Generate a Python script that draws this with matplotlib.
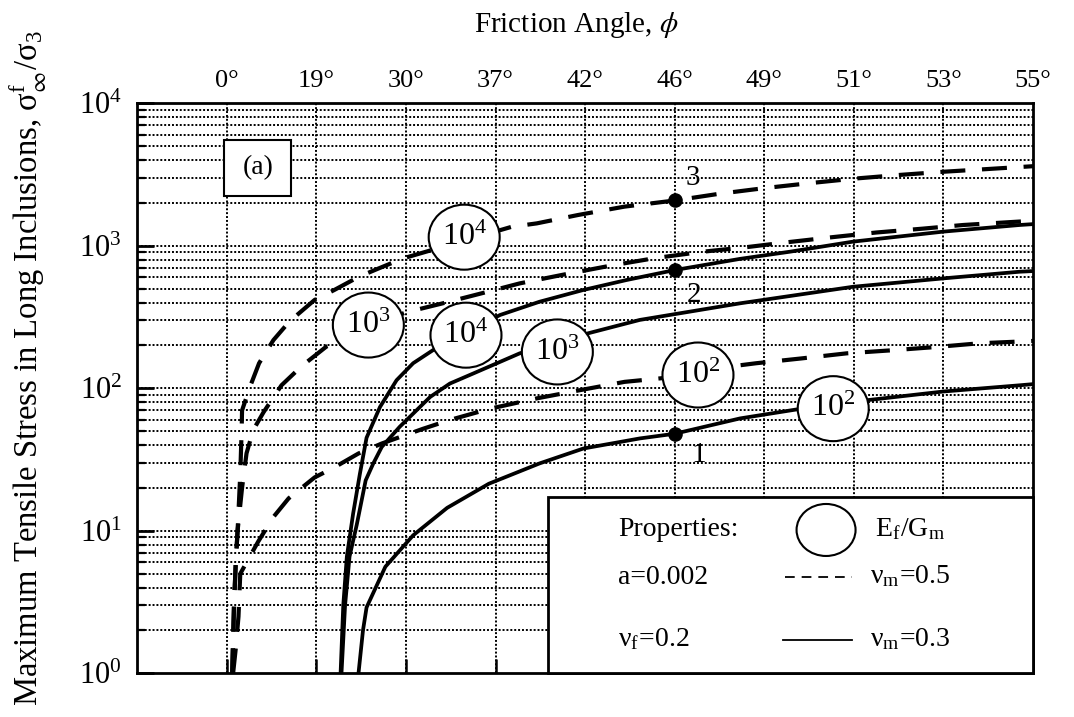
import matplotlib.pyplot as plt
from matplotlib.patches import Ellipse, Rectangle
from matplotlib.transforms import ScaledTranslation
from matplotlib.ticker import LogLocator, NullFormatter

plt.rcParams['font.family'] = ['Liberation Serif', 'DejaVu Serif']
plt.rcParams['mathtext.fontset'] = 'stix'
plt.rcParams['lines.scale_dashes'] = False

# x axis is Kp = (1 + sin phi) / (1 - sin phi); top labels give the angle
kp_ticks = [1, 2, 3, 4, 5, 6, 7, 8, 9, 10]
angle_labels = ['0°', '19°', '30°', '37°', '42°', '46°', '49°', '51°', '53°', '55°']

# nu_m = 0.5 (dashed), Ef/Gm = 1e2, 1e3, 1e4
d2_kp = [1.07, 1.10, 1.13, 1.15, 1.35, 1.52, 1.69, 1.98, 2.21, 2.47, 2.73, 3.19, 3.49,
         3.94, 4.46, 4.94, 5.44, 5.87, 6.61, 6.91, 7.41, 7.92, 8.43, 8.92, 9.40, 10.0]
d2_s = [1, 1.5, 2.5, 5, 8.4, 12.5, 16.9, 23.7, 28.1, 34.9, 41, 52, 60,
        72, 85, 97, 111, 118, 142, 150, 162, 176, 185, 195, 207, 215]

d3_kp = [1.06, 1.08, 1.10, 1.12, 1.17, 1.22, 1.295, 1.41, 1.61, 1.835, 2.11, 2.99, 3.39,
         3.82, 4.27, 4.77, 5.28, 5.78, 6.32, 6.78, 7.26, 7.76, 8.25, 8.77, 9.22, 9.77, 10.0]
d3_s = [1, 3, 6, 10, 20, 35, 51, 68, 105, 143, 196, 340, 392,
        460, 545, 630, 725, 820, 910, 975, 1060, 1150, 1240, 1320, 1400, 1470, 1500]

d4_kp = [1.06, 1.08, 1.10, 1.12, 1.15, 1.165, 1.17, 1.26, 1.36, 1.52, 1.70, 1.98, 2.20,
         2.47, 2.69, 2.97, 4.18, 4.46, 4.92, 5.44, 6.00, 6.50, 7.00, 7.50, 8.00, 8.50,
         9.00, 9.50, 10.0]
d4_s = [1, 3, 6, 10, 25, 50, 70, 103, 150, 218, 295, 417, 490,
        605, 692, 817, 1360, 1437, 1645, 1884, 2080, 2320, 2540, 2750, 2960, 3140,
        3310, 3460, 3620]

# nu_m = 0.3 (solid)
s2_kp = [2.47, 2.52, 2.56, 2.77, 3.08, 3.46, 3.925, 4.49, 4.98, 5.61, 6.00, 6.73, 7.38,
         8.18, 9.00, 9.85, 10.0]
s2_s = [1, 2, 2.9, 5.6, 9.3, 14.5, 21.4, 29.7, 37.8, 44.5, 48, 61.5, 71.4,
        83, 95, 105, 107]

s3_kp = [2.28, 2.32, 2.37, 2.45, 2.55, 2.635, 2.73, 2.93, 3.27, 3.49, 3.75, 4.27, 5.03,
         5.61, 6.73, 7.99, 9.00, 9.85, 10.0]
s3_s = [1, 3, 6.6, 11, 22.6, 29.7, 38.8, 53.7, 87, 108, 127, 176, 243,
        302, 395, 516, 591, 658, 665]

s4_kp = [2.27, 2.30, 2.34, 2.41, 2.485, 2.56, 2.71, 2.895, 3.08, 3.30, 4.05, 4.49, 4.98,
         5.46, 6.00, 6.73, 7.29, 7.99, 9.00, 9.85, 10.0]
s4_s = [1, 3, 6.6, 13.2, 25, 45, 74, 114, 150, 185, 327, 405, 490,
        575, 676, 810, 910, 1070, 1258, 1400, 1420]

# numbered points at phi = 46 deg
pt_kp = [6, 6, 6]
pt_s = [48, 676, 2080]
pt_names = ['1', '2', '3']
pt_offsets = [(17, -15), (14, -18), (13, 16)]

# Ef/Gm bubbles on the curves
bubble_text = ['4', '3', '4', '3', '2', '2']
bubble_kp = [3.65, 2.58, 3.67, 4.69, 6.26, 7.77]
bubble_s = [1150, 278, 236, 180, 124, 72]

fig = plt.figure(figsize=(10.74, 7.17), dpi=100)
ax = fig.add_axes([0.1278, 0.0609, 0.834, 0.795])
ax.set_yscale('log')
ax.set_xlim(0, 10)
ax.set_ylim(1, 1e4)

# dotted grid
dots = (0, (1.4, 1.4))
for k in kp_ticks[:-1]:
    ax.axvline(k, color='k', lw=1.4, ls=dots, zorder=1)
for dec in [1, 10, 100, 1000]:
    for m in range(1, 10):
        if dec * m > 1:
            ax.axhline(dec * m, color='k', lw=1.4, ls=dots, zorder=1)

dash = (0, (18, 12))
for xs, ys in [(d2_kp, d2_s), (d3_kp, d3_s), (d4_kp, d4_s)]:
    ax.plot(xs, ys, color='k', lw=3.0, ls=dash, zorder=3)
for xs, ys in [(s2_kp, s2_s), (s3_kp, s3_s), (s4_kp, s4_s)]:
    ax.plot(xs, ys, color='k', lw=2.7, zorder=3)

ax.plot(pt_kp, pt_s, 'o', color='k', ms=9.5, zorder=4)
for x, y, name, off in zip(pt_kp, pt_s, pt_names, pt_offsets):
    ax.annotate(name, (x, y), xytext=off, textcoords='offset points',
                ha='center', va='center', fontsize=21, zorder=4)

for t, x, y in zip(bubble_text, bubble_kp, bubble_s):
    tr = fig.dpi_scale_trans + ScaledTranslation(x, y, ax.transData)
    ax.add_patch(Ellipse((0, 0), 0.71, 0.65, transform=tr, fc='white', ec='k',
                         lw=1.5, zorder=5, clip_on=False))
    ax.text(x, y, r'$\mathregular{10^{%s}}$' % t, ha='center', va='center',
            fontsize=23, zorder=6)

# axes, ticks
for sp in ax.spines.values():
    sp.set_linewidth(2)
ax.set_xticks(kp_ticks)
ax.set_xticklabels(angle_labels)
ax.tick_params(axis='x', direction='in', bottom=True, top=False, labelbottom=False,
               labeltop=True, length=10, width=1.8, pad=8, labelsize=19)
ax.yaxis.set_major_locator(LogLocator(base=10, numticks=10))
ax.yaxis.set_minor_locator(LogLocator(base=10, subs=range(2, 10), numticks=10))
ax.yaxis.set_minor_formatter(NullFormatter())
ax.tick_params(axis='y', which='major', direction='in', length=12, width=2,
               labelsize=22, pad=11)
ax.tick_params(axis='y', which='minor', direction='in', length=6, width=1.6)

fig.text(576 / 1074, 1 - 25 / 717, r'Friction Angle, $\phi$', ha='center', va='center',
         fontsize=21)
fig.text(28 / 1074, 1 - 368 / 717,
         r'Maximum Tensile Stress in Long Inclusions, σ$^\mathregular{f}_\infty$/σ$_\mathregular{3}$',
         rotation=90, ha='center', va='center', fontsize=23.5)

# panel tag
ax.add_patch(Rectangle((0.0974, 0.837), 0.0743, 0.099, transform=ax.transAxes,
                       fc='white', ec='k', lw=1.5, zorder=4))
ax.text(0.1346, 0.8865, '(a)', transform=ax.transAxes, ha='center', va='center',
        fontsize=20, zorder=5)

# key box
ax.add_patch(Rectangle((0.4585, 0), 0.5415, 0.309, transform=ax.transAxes,
                       fc='white', ec='k', lw=2, zorder=6, clip_on=False))
key = dict(transform=ax.transAxes, va='center', fontsize=20, zorder=7)
ax.text(0.537, 0.2515, 'Properties:', **key)
ax.add_patch(Ellipse((0, 0), 0.59, 0.52, fc='white', ec='k', lw=1.5, zorder=7,
                     transform=fig.dpi_scale_trans
                     + ScaledTranslation(0.769, 0.2515, ax.transAxes)))
ax.text(0.8237, 0.2515, r'E$_\mathregular{f}$/G$_\mathregular{m}$', **key)
ax.text(0.537, 0.169, 'a=0.002', **key)
ax.plot([0.723, 0.798], [0.169, 0.169], transform=ax.transAxes, color='k', lw=1.3,
        ls=(0, (7, 5)), zorder=7)
ax.text(0.818, 0.169, r'ν$_\mathregular{m}$=0.5', **key)
ax.text(0.537, 0.0584, r'ν$_\mathregular{f}$=0.2', **key)
ax.plot([0.721, 0.798], [0.0584, 0.0584], transform=ax.transAxes, color='k', lw=1.3,
        zorder=7)
ax.text(0.818, 0.0584, r'ν$_\mathregular{m}$=0.3', **key)

fig.savefig('out.png', dpi=100)
